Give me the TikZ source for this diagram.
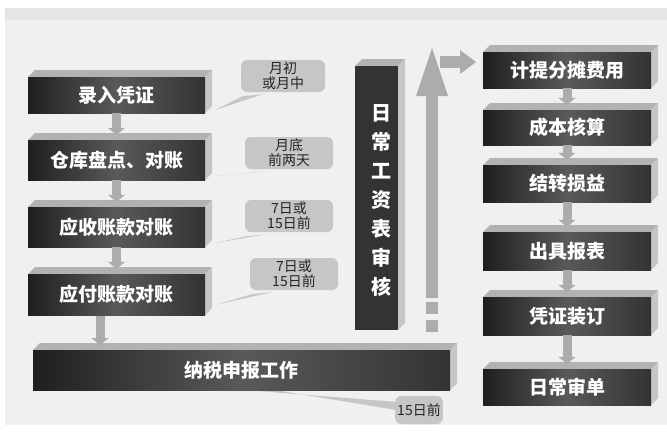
\documentclass[tikz,border=0pt]{standalone}
\usepackage{fontspec}
\newfontfamily\cjk{Noto Sans CJK SC}
\usetikzlibrary{arrows.meta}
\newcommand{\tbox}[6]{%
 \fill[gray!60] (#2,#3) -- ++(7,-7) -- (#4+7,#3-7) -- (#4,#3) -- cycle;
 \fill[gray!45] (#4,#3) -- (#4+7,#3-7) -- (#4+7,#5-7) -- (#4,#5) -- cycle;
 \shade[left color=black!88,right color=black!80,middle color=black!65] (#2,#3) rectangle (#4,#5);
 \node[text=white,font=\cjk\bfseries\fontsize{19}{21}\selectfont,minimum width={#4-#2},minimum height={#5-#3},inner sep=0pt] (#1) at ({(#2+#4)/2},{(#3+#5)/2}) {#6};}
\tikzset{
 flow/.style={line width=9pt,draw=gray!65,-{Triangle[width=17pt,length=7pt]}},
 call/.style={fill=gray!45,rounded corners=6pt,font=\cjk\fontsize{14}{15}\selectfont,align=center,inner sep=2pt,minimum height=32pt,text=black!85}}
\begin{document}
\begin{tikzpicture}[x=1pt,y=-1pt]
\useasboundingbox (0,0) rectangle (667,437);
\fill[gray!12] (5,20) rectangle (667,425);
\fill[gray!20] (5,8) rectangle (667,20);
% callouts
\node[call,minimum width=84pt] (c1) at (283,76) {月初\\或月中};
\fill[gray!45] ([xshift=2pt,yshift=-4pt]c1.south west) -- (215,110) -- ([xshift=22pt,yshift=-2pt]c1.south west) -- cycle;
\node[call,minimum width=88pt] (c2) at (289,153) {月底\\前两天};
\fill[gray!45] ([xshift=2pt,yshift=-4pt]c2.south west) -- (215,176) -- ([xshift=22pt,yshift=-2pt]c2.south west) -- cycle;
\node[call,minimum width=88pt] (c3) at (289,216) {7日或\\15日前};
\fill[gray!45] ([xshift=2pt,yshift=-4pt]c3.south west) -- (215,243) -- ([xshift=22pt,yshift=-2pt]c3.south west) -- cycle;
\node[call,minimum width=88pt] (c4) at (294,274) {7日或\\15日前};
\fill[gray!45] ([xshift=2pt,yshift=-4pt]c4.south west) -- (215,305) -- ([xshift=22pt,yshift=-2pt]c4.south west) -- cycle;
\node[call,minimum width=44pt,minimum height=28pt] (c5) at (419,410) {15日前};
\fill[gray!45] ([yshift=-6pt]c5.north west) -- (245,390) -- (275,390) -- ([yshift=-14pt]c5.north west) -- cycle;
% left boxes
\tbox{a1}{28}{77}{205}{113}{录入凭证}
\tbox{a2}{28}{140}{205}{180}{仓库盘点、对账}
\tbox{a3}{28}{207}{205}{247}{应收账款对账}
\tbox{a4}{28}{274}{205}{315}{应付账款对账}
\tbox{tax}{33}{350}{450}{390}{纳税申报工作}
% right boxes
\tbox{b1}{483}{52}{651}{88}{计提分摊费用}
\tbox{b2}{483}{110}{651}{145}{成本核算}
\tbox{b3}{483}{165}{651}{202}{结转损益}
\tbox{b4}{483}{232}{651}{270}{出具报表}
\tbox{b5}{483}{297}{651}{335}{凭证装订}
\tbox{b6}{483}{369}{651}{405}{日常审单}
% vertical bar
\fill[gray!60] (355,66) -- ++(7,-7) -- (405,59) -- (398,66) -- cycle;
\fill[gray!45] (398,66) -- (405,59) -- (405,323) -- (398,330) -- cycle;
\fill[black!80] (355,66) rectangle (398,330);
\node[text=white,font=\cjk\bfseries\fontsize{20}{29}\selectfont,align=center,text width=1em] (pay) at (376,200) {日\\常\\工\\资\\表\\审\\核};
% arrows
\foreach \p/\q in {a1/a2,a2/a3,a3/a4,b1/b2,b2/b3,b3/b4,b4/b5,b5/b6}
  \draw[flow] (\p.south) -- ([yshift=5pt]\q.north);
\coordinate (t0) at (100,316);
\draw[flow] (t0) -- (100,345);
\coordinate (u0) at (432,298);
\coordinate (u2) at (476,62);
\draw[line width=12pt,draw=gray!65] (u0) -- (432,95);
\fill[gray!65] (416,96) -- (432,48) -- (448,96) -- cycle;
\draw[line width=12pt,draw=gray!65] (440,62) -- (462,62);
\fill[gray!65] (460,50) -- (u2) -- (460,74) -- cycle;
\fill[gray!65] (426,302) rectangle (438,314);
\fill[gray!65] (426,320) rectangle (438,332);
\end{tikzpicture}
\end{document}
